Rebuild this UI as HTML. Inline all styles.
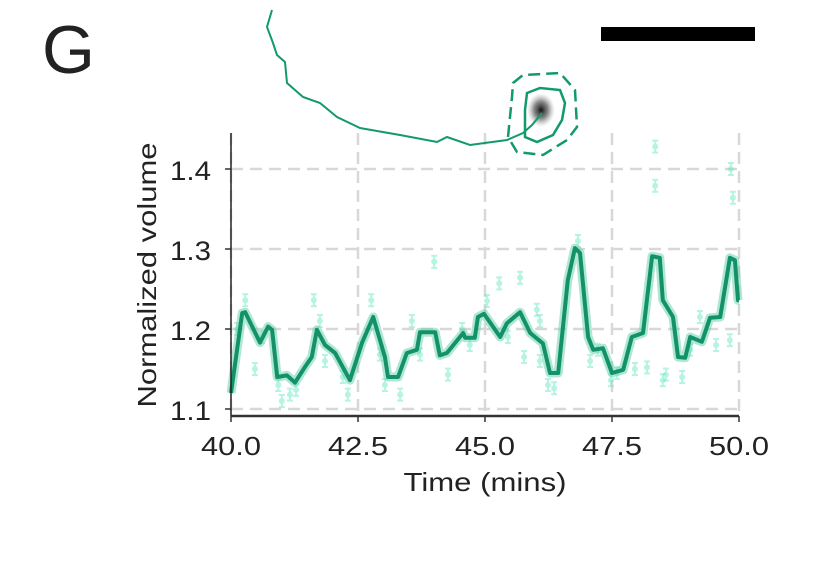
<!DOCTYPE html>
<html><head><meta charset="utf-8"><style>
body{margin:0;background:#fff;}
svg text{font-family:"Liberation Sans",sans-serif;fill:#222;}
</style></head><body>
<svg id="chart" width="823" height="563" xmlns="http://www.w3.org/2000/svg">
<defs><radialGradient id="blob" cx="50%" cy="50%" r="50%">
<stop offset="0" stop-color="#111"/><stop offset="0.5" stop-color="#555" stop-opacity="0.7"/><stop offset="1" stop-color="#aaa" stop-opacity="0"/></radialGradient></defs>
<text x="42" y="73" font-size="68" fill="#111">G</text>
<rect x="601" y="27" width="154" height="14" fill="#000"/>
<g id="grid"></g>
<g id="inset">
<ellipse cx="541" cy="110" rx="14" ry="17" fill="url(#blob)"/>
<polyline points="272,10 267,27 273,43 277,55 285,62 287,83 303,97 320,103 337,117 360,128 400,135 437,142 447,137 470,145 507,140 523,133 532,125 542,113" fill="none" stroke="#129a6c" stroke-width="2"/>
<polygon points="527,93 540,88 560,90 565,103 562,120 553,135 537,142 525,137 525,110" fill="none" stroke="#129a6c" stroke-width="2.5"/>
<polygon points="513,83 523,75 560,73 575,90 577,127 567,140 543,155 517,152 508,137 512,97" fill="none" stroke="#129a6c" stroke-width="2.5" stroke-dasharray="12,6"/>
</g>
<g id="pts"></g>
<g id="line"></g>
<g id="axes"></g>
</svg>
<script>
const xTicks=[40.0,42.5,45.0,47.5,50.0];
const xTickLabels=["40.0","42.5","45.0","47.5","50.0"];
const yTicks=[1.1,1.2,1.3,1.4];
const yTickLabels=["1.1","1.2","1.3","1.4"];
const lineT=[40.00,40.22,40.28,40.57,40.73,40.81,40.91,41.10,41.26,41.46,41.59,41.69,41.85,42.05,42.34,42.58,42.80,43.03,43.09,43.29,43.46,43.66,43.72,44.02,44.11,44.25,44.57,44.61,44.80,44.86,44.98,45.30,45.43,45.69,45.89,46.14,46.28,46.44,46.63,46.77,46.87,47.03,47.13,47.32,47.50,47.72,47.89,48.11,48.29,48.44,48.50,48.70,48.80,48.94,49.04,49.27,49.43,49.63,49.82,49.92,49.98,50.00];
const lineV=[1.12,1.22,1.221,1.183,1.203,1.199,1.14,1.142,1.133,1.153,1.165,1.199,1.18,1.17,1.136,1.183,1.215,1.165,1.14,1.14,1.17,1.174,1.196,1.196,1.167,1.17,1.195,1.189,1.189,1.215,1.219,1.19,1.207,1.221,1.195,1.182,1.145,1.145,1.261,1.301,1.295,1.19,1.174,1.176,1.145,1.149,1.19,1.195,1.291,1.289,1.236,1.215,1.165,1.164,1.19,1.184,1.214,1.215,1.289,1.286,1.236,1.236];
const ptT=[40.28,40.12,40.47,40.61,40.93,41.00,41.16,41.28,41.63,41.75,41.85,42.20,42.30,42.76,42.93,43.03,43.33,43.56,43.72,44.00,44.27,44.55,44.70,45.04,45.28,45.45,45.69,45.77,46.02,46.08,46.24,46.36,46.83,47.07,47.22,47.48,47.60,47.95,48.19,48.35,48.35,48.56,48.88,49.23,49.04,49.55,49.82,49.84,49.88,48.50,46.08];
const ptV=[1.236,1.20,1.15,1.19,1.13,1.11,1.118,1.124,1.236,1.21,1.16,1.14,1.118,1.236,1.168,1.13,1.118,1.21,1.168,1.284,1.143,1.20,1.18,1.235,1.257,1.19,1.264,1.165,1.224,1.16,1.13,1.126,1.31,1.16,1.174,1.136,1.145,1.15,1.152,1.428,1.379,1.143,1.14,1.215,1.174,1.18,1.186,1.40,1.364,1.136,1.21];
const X0=231,X1=739,YT=133,YB=416;
const xs=t=>X0+(t-40)/10*(X1-X0);
const ys=v=>409-(v-1.1)*800;
const NS="http://www.w3.org/2000/svg";
function mk(tag,parent,attrs){const e=document.createElementNS(NS,tag);for(const k in attrs)e.setAttribute(k,attrs[k]);parent.appendChild(e);return e;}
const grid=document.getElementById('grid'),axes=document.getElementById('axes'),pts=document.getElementById('pts'),lg=document.getElementById('line');
xTicks.forEach((t,i)=>{
  const g=mk('line',grid,{x1:xs(t),x2:xs(t),y1:YT,y2:YB,stroke:'#d8d8d8','stroke-width':2.5,'stroke-dasharray':'12,7'});
  
  
  const tk=mk('line',axes,{x1:xs(t),x2:xs(t),y1:YB,y2:YB+6,stroke:'#333','stroke-width':1.5});
  
  
  const tx=mk('text',axes,{x:xs(t),y:455,'font-size':26,'text-anchor':'middle',textLength:60,lengthAdjust:'spacingAndGlyphs'});
  tx.textContent=xTickLabels[i];
  
  
});
yTicks.forEach((v,i)=>{
  const g=mk('line',grid,{x1:X0,x2:X1,y1:ys(v),y2:ys(v),stroke:'#d8d8d8','stroke-width':2.5,'stroke-dasharray':'12,7'});
  
  
  const tk=mk('line',axes,{x1:X0-6,x2:X0,y1:ys(v),y2:ys(v),stroke:'#333','stroke-width':1.5});
  
  
  const tx=mk('text',axes,{x:X0-20,y:ys(v)+11,'font-size':27,'text-anchor':'end',textLength:41,lengthAdjust:'spacingAndGlyphs'});
  tx.textContent=yTickLabels[i];
  
  
});
ptT.forEach((t,i)=>{
  const g=mk('g',pts,{opacity:0.45});
  
  
  const x=xs(t),y=ys(ptV[i]);
  mk('line',g,{x1:x,x2:x,y1:y-6,y2:y+6,stroke:'#5fe6bf','stroke-width':2});
  mk('line',g,{x1:x-3,x2:x+3,y1:y-6,y2:y-6,stroke:'#5fe6bf','stroke-width':2});
  mk('line',g,{x1:x-3,x2:x+3,y1:y+6,y2:y+6,stroke:'#5fe6bf','stroke-width':2});
  mk('circle',g,{cx:x,cy:y,r:3,fill:'#5fe6bf'});
});
const d=lineT.map((t,i)=>(i?'L':'M')+xs(t).toFixed(1)+','+ys(lineV[i]).toFixed(1)).join(' ');
const band=mk('path',lg,{d:d,fill:'none',stroke:'#5fcfa6','stroke-width':9,opacity:0.5,'stroke-linejoin':'round'});


const ln=mk('path',lg,{d:d,fill:'none',stroke:'#12916a','stroke-width':4,'stroke-linejoin':'round'});


const sl=mk('line',axes,{x1:X0,x2:X0,y1:YT,y2:YB,stroke:'#222','stroke-width':1.5});


const sb=mk('line',axes,{x1:X0,x2:X1,y1:YB,y2:YB,stroke:'#333','stroke-width':2.5});


const xt=mk('text',axes,{x:485,y:491,'font-size':26,'text-anchor':'middle',textLength:163,lengthAdjust:'spacingAndGlyphs'});
xt.textContent='Time (mins)';


const yt=mk('text',axes,{x:0,y:0,'font-size':26,'text-anchor':'middle',textLength:265,lengthAdjust:'spacingAndGlyphs',transform:'translate(156,275) rotate(-90)'});
yt.textContent='Normalized volume';


</script>
</body></html>
